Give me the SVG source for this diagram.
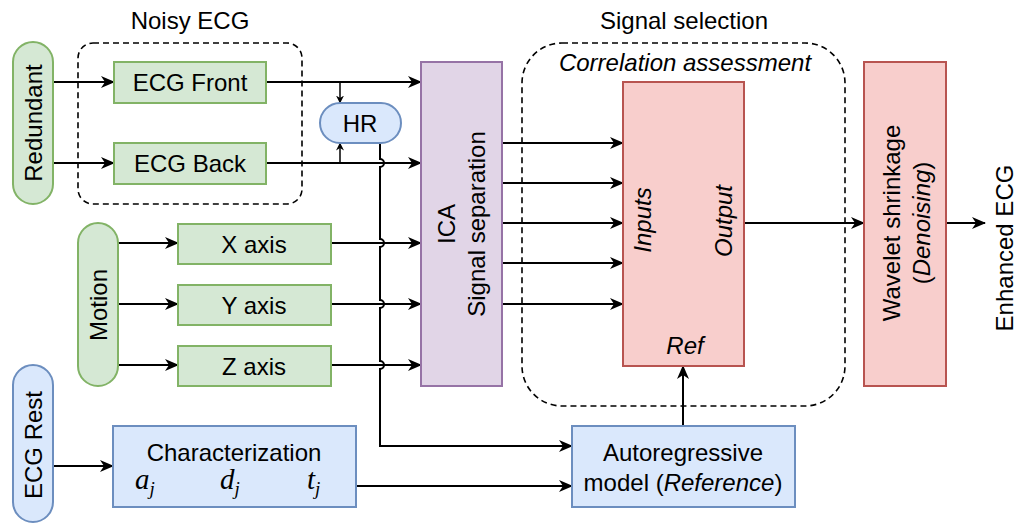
<svg xmlns="http://www.w3.org/2000/svg" width="1016" height="525" viewBox="0 0 1016 525">
<defs>
<marker id="arr" viewBox="0 0 14 12" refX="13" refY="6" markerWidth="14" markerHeight="12" markerUnits="userSpaceOnUse" orient="auto">
<path d="M0,0 L14,6 L0,12 L4,6 z" fill="#000"/>
</marker>
<marker id="sarr" viewBox="0 0 8 8" refX="7.5" refY="4" markerWidth="8" markerHeight="8" markerUnits="userSpaceOnUse" orient="auto">
<path d="M0,0 L8,4 L0,8 L2.5,4 z" fill="#000"/>
</marker>
<style>
text{font-family:"Liberation Sans",Arial,sans-serif;font-size:24px;fill:#000}
.c{text-anchor:middle;dominant-baseline:central}
.i{font-style:italic}
.m{font-family:"Liberation Serif","Times New Roman",serif;font-style:italic;font-size:29px}
.g{fill:#d5e8d4;stroke:#82b366;stroke-width:2}
.b{fill:#dae8fc;stroke:#6c8ebf;stroke-width:2}
.p{fill:#e1d5e7;stroke:#9673a6;stroke-width:2}
.r{fill:#f8cecc;stroke:#b85450;stroke-width:2}
.d{fill:none;stroke:#000;stroke-width:1.6;stroke-dasharray:6 4}
.e{fill:none;stroke:#000;stroke-width:2;marker-end:url(#arr)}
.es{fill:none;stroke:#000;stroke-width:1.5;marker-end:url(#sarr)}
.l{fill:none;stroke:#000;stroke-width:2}
</style>
</defs>

<g id="groups">
<rect class="d" x="78" y="43" width="224" height="161" rx="15"/>
<text class="c" x="190" y="20">Noisy ECG</text>
<rect class="d" x="522" y="43" width="323" height="363" rx="40"/>
<text class="c" x="684" y="20">Signal selection</text>
<text class="c i" x="685" y="62">Correlation assessment</text>
</g>

<g id="connectors">
<path class="e" d="M53,82 H114"/>
<path class="e" d="M53,163 H114"/>
<path class="e" d="M266,82 H421"/>
<path class="e" d="M266,163 H421"/>
<path class="es" d="M340,82 V103"/>
<path class="es" d="M340,163 V143"/>
<path class="e" d="M118,243 H178"/>
<path class="e" d="M118,304 H178"/>
<path class="e" d="M118,365 H178"/>
<path class="e" d="M331,243 H421"/>
<path class="e" d="M331,304 H421"/>
<path class="e" d="M331,365 H421"/>
<path class="e" d="M380,143 V159 a4,4 0 0 1 0,8 V239 a4,4 0 0 1 0,8 V300 a4,4 0 0 1 0,8 V361 a4,4 0 0 1 0,8 V446 H572"/>
<path class="e" d="M502,143 H623"/>
<path class="e" d="M502,183 H623"/>
<path class="e" d="M502,223 H623"/>
<path class="e" d="M502,263 H623"/>
<path class="e" d="M502,304 H623"/>
<path class="e" d="M744,223 H864"/>
<path class="e" d="M946,223 H985"/>
<path class="e" d="M53,466 H113"/>
<path class="e" d="M356,486 H572"/>
<path class="e" d="M683,426 V366"/>
</g>

<g id="redundant">
<rect class="g" x="13" y="42" width="40" height="162" rx="20"/>
<text class="c" transform="translate(33,123) rotate(-90)">Redundant</text>
</g>
<g id="ecg-front">
<rect class="g" x="114" y="62" width="152" height="41"/>
<text class="c" x="190" y="82">ECG Front</text>
</g>
<g id="ecg-back">
<rect class="g" x="114" y="143" width="152" height="41"/>
<text class="c" x="190" y="163">ECG Back</text>
</g>
<g id="hr">
<rect class="b" x="320" y="103" width="81" height="40" rx="20"/>
<text class="c" x="360" y="123">HR</text>
</g>
<g id="motion">
<rect class="g" x="78" y="223" width="40" height="163" rx="20"/>
<text class="c" transform="translate(98,305) rotate(-90)">Motion</text>
</g>
<g id="x-axis">
<rect class="g" x="178" y="224" width="153" height="40"/>
<text class="c" x="254" y="244">X axis</text>
</g>
<g id="y-axis">
<rect class="g" x="178" y="285" width="153" height="40"/>
<text class="c" x="254" y="305">Y axis</text>
</g>
<g id="z-axis">
<rect class="g" x="178" y="346" width="153" height="40"/>
<text class="c" x="254" y="366">Z axis</text>
</g>
<g id="ecg-rest">
<rect class="b" x="13" y="365" width="40" height="157" rx="20"/>
<text class="c" transform="translate(33,445) rotate(-90)">ECG Rest</text>
</g>
<g id="characterization">
<rect class="b" x="113" y="426" width="243" height="81"/>
<text class="c" x="234" y="452">Characterization</text>
<text class="m" x="135" y="489">a<tspan font-size="19" dy="6">j</tspan></text>
<text class="m" x="220" y="489">d<tspan font-size="19" dy="6">j</tspan></text>
<text class="m" x="307" y="489">t<tspan font-size="19" dy="6">j</tspan></text>
</g>
<g id="ica">
<rect class="p" x="421" y="62" width="81" height="324"/>
<text class="c" transform="translate(461,224) rotate(-90)"><tspan x="0" y="-15">ICA</tspan><tspan x="0" y="15">Signal separation</tspan></text>
</g>
<g id="correlation">
<rect class="r" x="623" y="82" width="121" height="284"/>
<text class="c i" transform="translate(642,220) rotate(-90)">Inputs</text>
<text class="c i" transform="translate(723,221) rotate(-90)">Output</text>
<text class="c i" x="685" y="345">Ref</text>
</g>
<g id="autoregressive">
<rect class="b" x="572" y="426" width="223" height="81"/>
<text class="c" x="683" y="452">Autoregressive</text>
<text class="c" x="683" y="482">model (<tspan class="i">Reference</tspan>)</text>
</g>
<g id="wavelet">
<rect class="r" x="864" y="62" width="82" height="324"/>
<text class="c" transform="translate(906,223) rotate(-90)"><tspan x="0" y="-15">Wavelet shrinkage</tspan><tspan x="0" y="15">(<tspan class="i">Denoising</tspan>)</tspan></text>
</g>
<g id="enhanced">
<text class="c" transform="translate(1004,248) rotate(-90)">Enhanced ECG</text>
</g>
</svg>
